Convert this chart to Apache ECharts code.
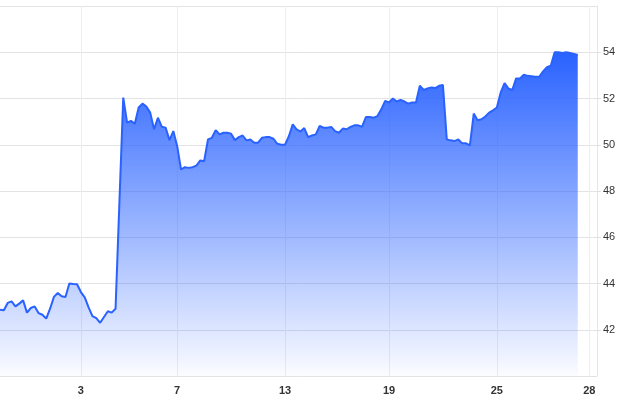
<!DOCTYPE html>
<html>
<head>
<meta charset="utf-8">
<script src="https://cdn.jsdelivr.net/npm/echarts@6/dist/echarts.min.js"></script>
<style>
html,body{margin:0;padding:0;background:#fff;}
#c{width:620px;height:400px;}
</style>
</head>
<body>
<div id="c"></div>
<script>
const pointCount = 156;
const tickDays = ['3', '7', '13', '19', '25', '28'];
const tickPoints = [21, 46, 74, 101, 129, 153];
const yTicks = [42, 44, 46, 48, 50, 52, 54];
const prices = [
  42.87, 42.84, 43.16, 43.23, 43.01, 43.13, 43.27, 42.74, 42.94, 43.01,
  42.72, 42.65, 42.48, 42.91, 43.42, 43.59, 43.45, 43.42, 44.00, 43.98,
  43.97, 43.63, 43.40, 42.97, 42.59, 42.50, 42.30, 42.55, 42.80, 42.74,
  42.91, 47.50, 52.04, 50.96, 51.03, 50.91, 51.61, 51.78, 51.65, 51.39,
  50.67, 51.17, 50.78, 50.74, 50.20, 50.59, 49.94, 48.93, 49.03, 49.00,
  49.03, 49.10, 49.32, 49.29, 50.23, 50.30, 50.63, 50.45, 50.52, 50.52,
  50.48, 50.20, 50.33, 50.40, 50.19, 50.23, 50.09, 50.09, 50.30, 50.33,
  50.33, 50.26, 50.04, 50.00, 50.00, 50.37, 50.88, 50.67, 50.57, 50.72,
  50.33, 50.40, 50.45, 50.81, 50.74, 50.74, 50.77, 50.59, 50.52, 50.70,
  50.67, 50.77, 50.84, 50.84, 50.78, 51.20, 51.20, 51.17, 51.24, 51.53,
  51.90, 51.83, 52.00, 51.87, 51.94, 51.87, 51.78, 51.83, 51.83, 52.55,
  52.37, 52.43, 52.48, 52.45, 52.55, 52.58, 50.23, 50.19, 50.16, 50.23,
  50.06, 50.06, 49.97, 51.35, 51.06, 51.10, 51.22, 51.39, 51.49, 51.61,
  52.26, 52.67, 52.43, 52.37, 52.87, 52.87, 53.03, 52.98, 52.96, 52.94,
  52.94, 53.17, 53.35, 53.42, 54.00, 54.00, 53.97, 54.00, 53.97, 53.93,
  53.88
];

const categories = Array.from({length: pointCount}, (_, i) => String(i));
const isTick = (i) => tickPoints.indexOf(i) >= 0;

const chart = echarts.init(document.getElementById('c'), null, {renderer: 'canvas'});
chart.setOption({
  animation: false,
  backgroundColor: '#ffffff',
  grid: {left: 0, right: 23, top: 6, bottom: 24, containLabel: false},
  xAxis: {
    type: 'category',
    data: categories,
    boundaryGap: false,
    axisLine: {show: false},
    axisTick: {show: false},
    axisLabel: {
      interval: (i) => isTick(i),
      formatter: (v) => { const j = tickPoints.indexOf(Number(v)); return j >= 0 ? tickDays[j] : ''; },
      color: '#333', fontSize: 11, fontWeight: 'bold', fontFamily: 'Liberation Sans, Arial, sans-serif', margin: 9
    },
    splitLine: {show: true, interval: (i) => isTick(i), lineStyle: {color: '#ebedf2', width: 1}}
  },
  yAxis: {
    type: 'value',
    position: 'right',
    min: 40, max: 56, interval: 2,
    axisLine: {show: true, lineStyle: {color: '#e3e5ea'}},
    axisTick: {show: true, length: 4, lineStyle: {color: '#e0e0e0'}},
    axisLabel: {
      showMinLabel: false, showMaxLabel: false,
      formatter: (v) => yTicks.indexOf(v) >= 0 ? String(v) : '',
      color: '#333', fontSize: 11, fontFamily: 'Liberation Sans, Arial, sans-serif', margin: 6
    },
    splitLine: {show: true, lineStyle: {color: '#e3e3e3', width: 1}}
  },
  series: [{
    type: 'line',
    data: prices,
    symbol: 'none',
    smooth: false,
    lineStyle: {color: '#2962ff', width: 2},
    itemStyle: {color: '#2962ff'},
    areaStyle: {
      opacity: 1,
      color: new echarts.graphic.LinearGradient(0, 0, 0, 1, [
        {offset: 0, color: 'rgba(41,98,255,1)'},
        {offset: 1, color: 'rgba(41,98,255,0.02)'}
      ])
    }
  }]
});
</script>
</body>
</html>
